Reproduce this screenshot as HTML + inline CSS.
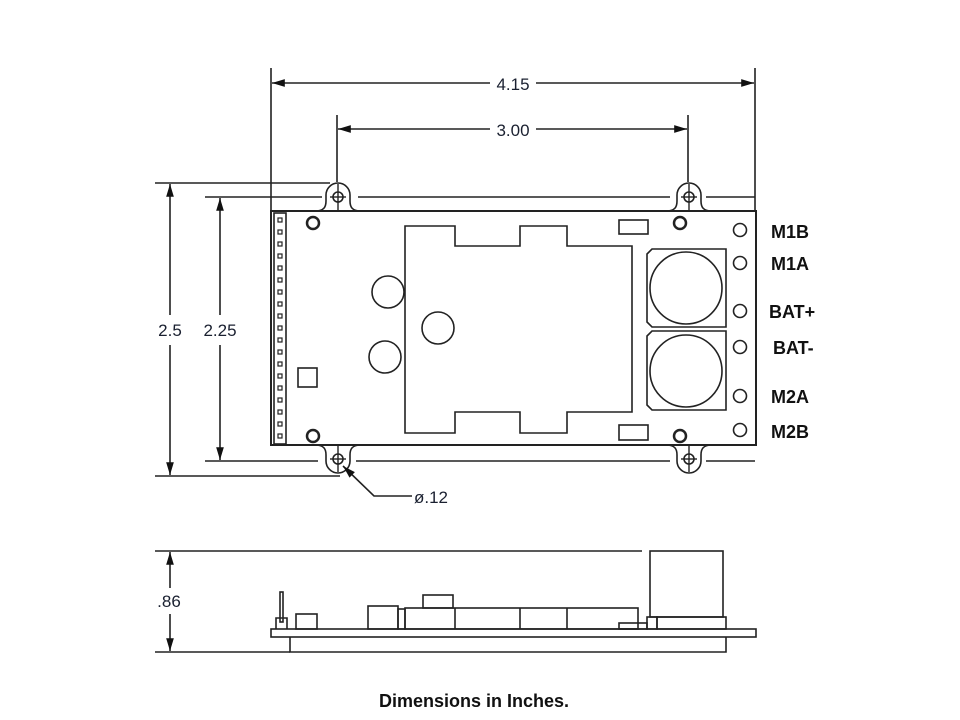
<!DOCTYPE html>
<html><head><meta charset="utf-8"><style>
html,body{margin:0;padding:0;background:#fff;width:960px;height:720px;overflow:hidden}
svg{display:block}
.d{font-family:"Liberation Sans",sans-serif;font-size:17px;fill:#1a2030}
.l{font-family:"Liberation Sans",sans-serif;font-size:18px;font-weight:bold;fill:#111}
</style></head><body>
<svg width="960" height="720" viewBox="0 0 960 720" xmlns="http://www.w3.org/2000/svg">
<defs>
<marker id="a" viewBox="0 0 10 10" refX="10" refY="5" markerWidth="8" markerHeight="8" orient="auto-start-reverse"><path d="M0,2 L10,5 L0,8 z" fill="#111"/></marker>
<g id="tab"><path d="M-23,0 C-14,0 -12,-4 -12,-10 L-12,-16 A12,12 0 0 1 12,-16 L12,-10 C12,-4 14,0 23,0" fill="#fff" stroke="#222" stroke-width="1.6"/>
<circle cx="0" cy="-14" r="5" fill="none" stroke="#222" stroke-width="1.6"/><line x1="0" y1="-27" x2="0" y2="0" stroke="#222" stroke-width="1.4"/><line x1="-8" y1="-14" x2="8" y2="-14" stroke="#222" stroke-width="1.4"/></g>
</defs>
<g stroke="#222" stroke-width="1.6" fill="none">
<line x1="271" y1="68" x2="271" y2="210"/>
<line x1="755" y1="68" x2="755" y2="210"/>
<line x1="272" y1="83" x2="490" y2="83" marker-start="url(#a)"/>
<line x1="536" y1="83" x2="754" y2="83" marker-end="url(#a)"/>
<line x1="337" y1="115" x2="337" y2="182"/>
<line x1="688" y1="115" x2="688" y2="182"/>
<line x1="338" y1="129" x2="490" y2="129" marker-start="url(#a)"/>
<line x1="536" y1="129" x2="687" y2="129" marker-end="url(#a)"/>
<line x1="155" y1="183" x2="330" y2="183"/>
<line x1="205" y1="197" x2="322" y2="197"/>
<line x1="358" y1="197" x2="670" y2="197"/>
<line x1="706" y1="197" x2="755" y2="197"/>
<line x1="205" y1="461" x2="318" y2="461"/>
<line x1="356" y1="461" x2="670" y2="461"/>
<line x1="706" y1="461" x2="755" y2="461"/>
<line x1="155" y1="476" x2="340" y2="476"/>
<line x1="170" y1="184" x2="170" y2="315" marker-start="url(#a)"/>
<line x1="170" y1="345" x2="170" y2="475" marker-end="url(#a)"/>
<line x1="220" y1="198" x2="220" y2="315" marker-start="url(#a)"/>
<line x1="220" y1="345" x2="220" y2="460" marker-end="url(#a)"/>
</g>
<use href="#tab" transform="translate(338,211)"/>
<use href="#tab" transform="translate(689,211)"/>
<use href="#tab" transform="translate(338,445) scale(1,-1)"/>
<use href="#tab" transform="translate(689,445) scale(1,-1)"/>
<g stroke="#222" stroke-width="1.6" fill="none">
<rect x="271" y="211" width="485" height="234" stroke-width="2"/>
<rect x="274" y="213" width="12" height="231"/>
<path d="M343,466 L374,496 L412,496" marker-start="url(#a)"/>
<circle cx="313" cy="223" r="6" stroke-width="2.5"/><circle cx="680" cy="223" r="6" stroke-width="2.5"/>
<circle cx="313" cy="436" r="6" stroke-width="2.5"/><circle cx="680" cy="436" r="6" stroke-width="2.5"/>
<path d="M405,226 H455 V246 H520 V226 H567 V246 H632 V412 H567 V433 H520 V412 H455 V433 H405 Z"/>
<circle cx="388" cy="292" r="16"/><circle cx="438" cy="328" r="16"/><circle cx="385" cy="357" r="16"/>
<rect x="298" y="368" width="19" height="19"/>
<rect x="619" y="220" width="29" height="14"/><rect x="619" y="425" width="29" height="15"/>
<path d="M652,249 H726 V327 H652 L647,322 V254 Z"/><circle cx="686" cy="288" r="36"/>
<path d="M652,331 H726 V410 H652 L647,405 V336 Z"/><circle cx="686" cy="371" r="36"/>
<circle cx="740" cy="230" r="6.5"/><circle cx="740" cy="263" r="6.5"/><circle cx="740" cy="311" r="6.5"/>
<circle cx="740" cy="347" r="6.5"/><circle cx="740" cy="396" r="6.5"/><circle cx="740" cy="430" r="6.5"/>
<line x1="155" y1="551" x2="642" y2="551"/>
<line x1="155" y1="652" x2="290" y2="652"/>
<line x1="170" y1="552" x2="170" y2="588" marker-start="url(#a)"/>
<line x1="170" y1="614" x2="170" y2="651" marker-end="url(#a)"/>
<rect x="271" y="629" width="485" height="8"/>
<path d="M290,637 V652 H726 V637"/>
<rect x="650" y="551" width="73" height="66"/>
<rect x="657" y="617" width="69" height="12"/>
<rect x="647" y="617" width="10" height="12"/>
<rect x="619" y="623" width="28" height="6"/>
<rect x="280" y="592" width="3" height="30"/>
<path d="M276,629 V618 H287 V629"/>
<rect x="296" y="614" width="21" height="15"/>
<rect x="368" y="606" width="30" height="23"/>
<rect x="398" y="609" width="7" height="20"/>
<rect x="405" y="608" width="233" height="21"/>
<line x1="455" y1="608" x2="455" y2="629"/><line x1="520" y1="608" x2="520" y2="629"/><line x1="567" y1="608" x2="567" y2="629"/>
<rect x="423" y="595" width="30" height="13"/>
</g>
<g fill="#fff" stroke="#222" stroke-width="1.2">
<rect x="278" y="218" width="4" height="4"/><rect x="278" y="230" width="4" height="4"/><rect x="278" y="242" width="4" height="4"/><rect x="278" y="254" width="4" height="4"/><rect x="278" y="266" width="4" height="4"/><rect x="278" y="278" width="4" height="4"/><rect x="278" y="290" width="4" height="4"/><rect x="278" y="302" width="4" height="4"/><rect x="278" y="314" width="4" height="4"/><rect x="278" y="326" width="4" height="4"/><rect x="278" y="338" width="4" height="4"/><rect x="278" y="350" width="4" height="4"/><rect x="278" y="362" width="4" height="4"/><rect x="278" y="374" width="4" height="4"/><rect x="278" y="386" width="4" height="4"/><rect x="278" y="398" width="4" height="4"/><rect x="278" y="410" width="4" height="4"/><rect x="278" y="422" width="4" height="4"/><rect x="278" y="434" width="4" height="4"/>
</g>
<text class="d" x="513" y="90" text-anchor="middle">4.15</text>
<text class="d" x="513" y="136" text-anchor="middle">3.00</text>
<text class="d" x="170" y="336" text-anchor="middle">2.5</text>
<text class="d" x="220" y="336" text-anchor="middle">2.25</text>
<text class="d" x="169" y="607" text-anchor="middle">.86</text>
<text class="d" x="414" y="503">ø.12</text>
<text class="l" x="771" y="238">M1B</text>
<text class="l" x="771" y="270">M1A</text>
<text class="l" x="769" y="318">BAT+</text>
<text class="l" x="773" y="354">BAT-</text>
<text class="l" x="771" y="403">M2A</text>
<text class="l" x="771" y="438">M2B</text>
<text x="474" y="707" text-anchor="middle" style="font-family:'Liberation Sans',sans-serif;font-size:18px;font-weight:bold;fill:#111">Dimensions in Inches.</text>
</svg>
</body></html>
